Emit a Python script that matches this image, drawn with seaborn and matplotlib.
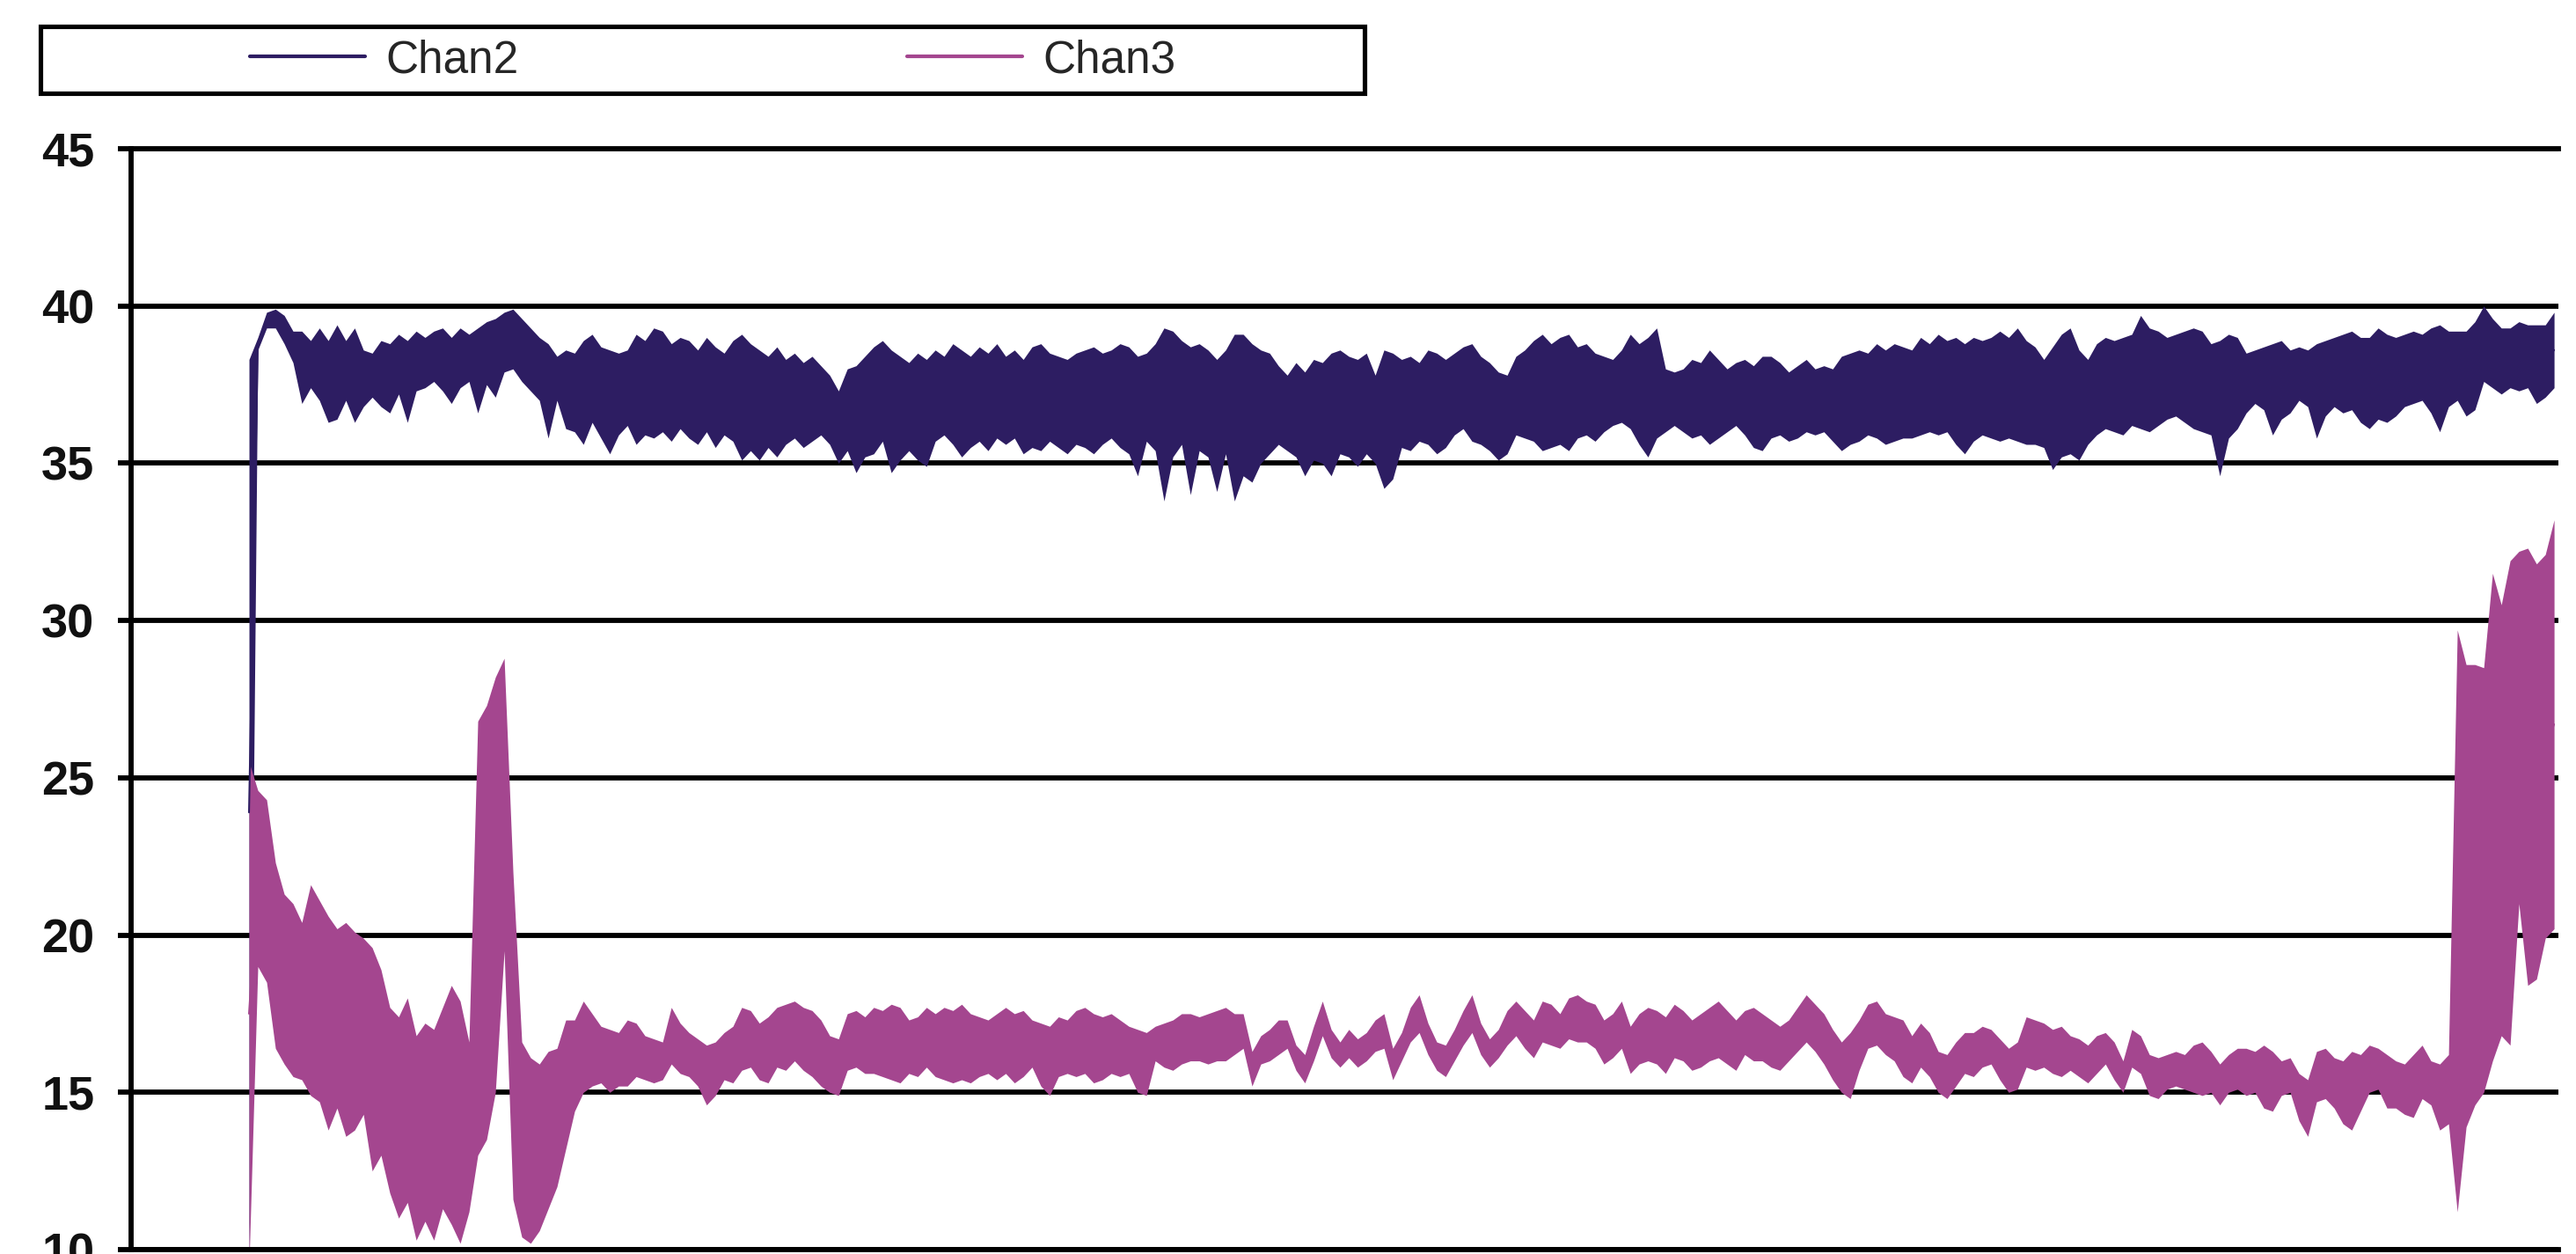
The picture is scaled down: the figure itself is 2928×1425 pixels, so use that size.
import numpy as np
import pandas as pd
import seaborn as sns
import matplotlib.pyplot as plt
from matplotlib.patches import Rectangle

# Valores: borde superior e inferior de cada traza por muestra
chan2_hi = [
    38.3, 39.0, 39.8, 39.9, 39.7, 39.2, 39.2, 38.9, 39.3, 38.9,
    39.4, 38.9, 39.3, 38.6, 38.5, 38.9, 38.8, 39.1, 38.9, 39.2,
    39.0, 39.2, 39.3, 39.0, 39.3, 39.1, 39.3, 39.5, 39.6, 39.8,
    39.9, 39.6, 39.3, 39.0, 38.8, 38.4, 38.6, 38.5, 38.9, 39.1,
    38.7, 38.6, 38.5, 38.6, 39.1, 38.9, 39.3, 39.2, 38.8, 39.0,
    38.9, 38.6, 39.0, 38.7, 38.5, 38.9, 39.1, 38.8, 38.6, 38.4,
    38.7, 38.3, 38.5, 38.2, 38.4, 38.1, 37.8, 37.3, 38.0, 38.1,
    38.4, 38.7, 38.9, 38.6, 38.4, 38.2, 38.5, 38.3, 38.6, 38.4,
    38.8, 38.6, 38.4, 38.7, 38.5, 38.8, 38.4, 38.6, 38.3, 38.7,
    38.8, 38.5, 38.4, 38.3, 38.5, 38.6, 38.7, 38.5, 38.6, 38.8,
    38.7, 38.4, 38.5, 38.8, 39.3, 39.2, 38.9, 38.7, 38.8, 38.6,
    38.3, 38.6, 39.1, 39.1, 38.8, 38.6, 38.5, 38.1, 37.8, 38.2,
    37.9, 38.3, 38.2, 38.5, 38.6, 38.4, 38.3, 38.5, 37.8, 38.6,
    38.5, 38.3, 38.4, 38.2, 38.6, 38.5, 38.3, 38.5, 38.7, 38.8,
    38.4, 38.2, 37.9, 37.8, 38.4, 38.6, 38.9, 39.1, 38.8, 39.0,
    39.1, 38.7, 38.8, 38.5, 38.4, 38.3, 38.6, 39.1, 38.8, 39.0,
    39.3, 38.0, 37.9, 38.0, 38.3, 38.2, 38.6, 38.3, 38.0, 38.2,
    38.3, 38.1, 38.4, 38.4, 38.2, 37.9, 38.1, 38.3, 38.0, 38.1,
    38.0, 38.4, 38.5, 38.6, 38.5, 38.8, 38.6, 38.8, 38.7, 38.6,
    39.0, 38.8, 39.1, 38.9, 39.0, 38.8, 39.0, 38.9, 39.0, 39.2,
    39.0, 39.3, 38.9, 38.7, 38.3, 38.7, 39.1, 39.3, 38.6, 38.3,
    38.8, 39.0, 38.9, 39.0, 39.1, 39.7, 39.3, 39.2, 39.0, 39.1,
    39.2, 39.3, 39.2, 38.8, 38.9, 39.1, 39.0, 38.5, 38.6, 38.7,
    38.8, 38.9, 38.6, 38.7, 38.6, 38.8, 38.9, 39.0, 39.1, 39.2,
    39.0, 39.0, 39.3, 39.1, 39.0, 39.1, 39.2, 39.1, 39.3, 39.4,
    39.2, 39.2, 39.2, 39.5, 40.0, 39.6, 39.3, 39.3, 39.5, 39.4,
    39.4, 39.4, 39.8,
]
chan2_lo = [
    9.5, 38.6, 39.3, 39.3, 38.8, 38.2, 36.9, 37.4, 37.0, 36.3,
    36.4, 37.0, 36.3, 36.8, 37.1, 36.8, 36.6, 37.2, 36.3, 37.3,
    37.4, 37.6, 37.3, 36.9, 37.4, 37.6, 36.6, 37.5, 37.1, 37.9,
    38.0, 37.6, 37.3, 37.0, 35.8, 37.0, 36.1, 36.0, 35.6, 36.3,
    35.8, 35.3, 35.9, 36.2, 35.6, 35.9, 35.8, 36.0, 35.7, 36.1,
    35.8, 35.6, 36.0, 35.5, 35.9, 35.7, 35.1, 35.4, 35.1, 35.5,
    35.2, 35.6, 35.8, 35.5, 35.7, 35.9, 35.6, 35.0, 35.4, 34.7,
    35.2, 35.3, 35.7, 34.7, 35.1, 35.4, 35.1, 34.9, 35.7, 35.9,
    35.6, 35.2, 35.5, 35.7, 35.4, 35.8, 35.6, 35.8, 35.3, 35.5,
    35.4, 35.7, 35.5, 35.3, 35.6, 35.5, 35.3, 35.6, 35.8, 35.5,
    35.3, 34.6, 35.7, 35.4, 33.8, 35.2, 35.6, 34.0, 35.4, 35.2,
    34.1, 35.3, 33.8, 34.6, 34.4, 35.0, 35.3, 35.6, 35.4, 35.2,
    34.6, 35.1, 35.0, 34.6, 35.3, 35.2, 34.9, 35.3, 35.0, 34.2,
    34.5, 35.5, 35.4, 35.7, 35.6, 35.3, 35.5, 35.9, 36.1, 35.7,
    35.6, 35.4, 35.1, 35.3, 35.9, 35.8, 35.7, 35.4, 35.5, 35.6,
    35.4, 35.8, 35.9, 35.7, 36.0, 36.2, 36.3, 36.1, 35.6, 35.2,
    35.8, 36.0, 36.2, 36.0, 35.8, 35.9, 35.6, 35.8, 36.0, 36.2,
    35.9, 35.5, 35.4, 35.8, 35.9, 35.7, 35.8, 36.0, 35.9, 36.0,
    35.7, 35.4, 35.6, 35.7, 35.9, 35.8, 35.6, 35.7, 35.8, 35.8,
    35.9, 36.0, 35.9, 36.0, 35.6, 35.3, 35.7, 35.9, 35.8, 35.7,
    35.8, 35.7, 35.6, 35.6, 35.5, 34.8, 35.2, 35.3, 35.1, 35.6,
    35.9, 36.1, 36.0, 35.9, 36.2, 36.1, 36.0, 36.2, 36.4, 36.5,
    36.3, 36.1, 36.0, 35.9, 34.6, 35.8, 36.1, 36.6, 36.9, 36.7,
    35.9, 36.4, 36.6, 37.0, 36.8, 35.8, 36.5, 36.8, 36.6, 36.7,
    36.3, 36.1, 36.4, 36.3, 36.5, 36.8, 36.9, 37.0, 36.6, 36.0,
    36.8, 37.0, 36.5, 36.7, 37.6, 37.4, 37.2, 37.4, 37.3, 37.4,
    36.9, 37.1, 37.4,
]
chan3_hi = [
    25.5, 24.6, 24.3, 22.3, 21.3, 21.0, 20.4, 21.6, 21.1, 20.6,
    20.2, 20.4, 20.1, 19.9, 19.6, 18.9, 17.7, 17.4, 18.0, 16.8,
    17.2, 17.0, 17.7, 18.4, 17.9, 16.6, 26.8, 27.3, 28.2, 28.8,
    22.0, 16.6, 16.1, 15.9, 16.3, 16.4, 17.3, 17.3, 17.9, 17.5,
    17.1, 17.0, 16.9, 17.3, 17.2, 16.8, 16.7, 16.6, 17.7, 17.2,
    16.9, 16.7, 16.5, 16.6, 16.9, 17.1, 17.7, 17.6, 17.2, 17.4,
    17.7, 17.8, 17.9, 17.7, 17.6, 17.3, 16.8, 16.7, 17.5, 17.6,
    17.4, 17.7, 17.6, 17.8, 17.7, 17.3, 17.4, 17.7, 17.5, 17.7,
    17.6, 17.8, 17.5, 17.4, 17.3, 17.5, 17.7, 17.5, 17.6, 17.3,
    17.2, 17.1, 17.4, 17.3, 17.6, 17.7, 17.5, 17.4, 17.5, 17.3,
    17.1, 17.0, 16.9, 17.1, 17.2, 17.3, 17.5, 17.5, 17.4, 17.5,
    17.6, 17.7, 17.5, 17.5, 16.3, 16.8, 17.0, 17.3, 17.3, 16.5,
    16.2, 17.1, 17.9, 17.0, 16.6, 17.0, 16.7, 16.9, 17.3, 17.5,
    16.4, 16.9, 17.7, 18.1, 17.2, 16.6, 16.5, 17.0, 17.6, 18.1,
    17.2, 16.7, 17.0, 17.6, 17.9, 17.6, 17.3, 17.9, 17.8, 17.5,
    18.0, 18.1, 17.9, 17.8, 17.3, 17.5, 17.9, 17.1, 17.5, 17.7,
    17.6, 17.4, 17.8, 17.6, 17.3, 17.5, 17.7, 17.9, 17.6, 17.3,
    17.6, 17.7, 17.5, 17.3, 17.1, 17.3, 17.7, 18.1, 17.8, 17.5,
    17.0, 16.6, 16.9, 17.3, 17.8, 17.9, 17.5, 17.4, 17.3, 16.8,
    17.2, 16.9, 16.3, 16.2, 16.6, 16.9, 16.9, 17.1, 17.0, 16.7,
    16.4, 16.6, 17.4, 17.3, 17.2, 17.0, 17.1, 16.8, 16.7, 16.5,
    16.8, 16.9, 16.6, 16.0, 17.0, 16.8, 16.2, 16.1, 16.2, 16.3,
    16.2, 16.5, 16.6, 16.3, 15.9, 16.2, 16.4, 16.4, 16.3, 16.5,
    16.3, 16.0, 16.1, 15.6, 15.4, 16.3, 16.4, 16.1, 16.0, 16.3,
    16.2, 16.5, 16.4, 16.2, 16.0, 15.9, 16.2, 16.5, 16.0, 15.9,
    16.2, 29.7, 28.6, 28.6, 28.5, 31.5, 30.5, 31.9, 32.2, 32.3,
    31.8, 32.1, 33.2,
]
chan3_lo = [
    9.5, 19.0, 18.5, 16.4, 15.9, 15.5, 15.4, 14.9, 14.7, 13.8,
    14.5, 13.6, 13.8, 14.3, 12.5, 13.0, 11.8, 11.0, 11.5, 10.3,
    10.9, 10.3, 11.3, 10.8, 10.2, 11.2, 13.0, 13.5, 15.0, 19.5,
    11.6, 10.4, 10.2, 10.6, 11.3, 12.0, 13.2, 14.4, 15.0, 15.2,
    15.3, 15.0, 15.2, 15.2, 15.5, 15.4, 15.3, 15.4, 15.9, 15.6,
    15.5, 15.2, 14.6, 14.9, 15.4, 15.3, 15.7, 15.8, 15.4, 15.3,
    15.8, 15.7, 16.0, 15.7, 15.5, 15.2, 15.0, 14.9, 15.7, 15.8,
    15.6, 15.6, 15.5, 15.4, 15.3, 15.6, 15.5, 15.8, 15.5, 15.4,
    15.3, 15.4, 15.3, 15.5, 15.6, 15.4, 15.6, 15.3, 15.5, 15.8,
    15.2, 14.9, 15.5, 15.6, 15.5, 15.6, 15.3, 15.4, 15.6, 15.5,
    15.6, 15.0, 14.9, 16.0, 15.8, 15.7, 15.9, 16.0, 16.0, 15.9,
    16.0, 16.0, 16.2, 16.4, 15.2, 15.9, 16.0, 16.2, 16.4, 15.7,
    15.3, 16.0, 16.8, 16.1, 15.8, 16.1, 15.8, 16.0, 16.3, 16.4,
    15.4, 16.0, 16.6, 16.9, 16.2, 15.7, 15.5, 16.0, 16.5, 16.9,
    16.2, 15.8, 16.1, 16.5, 16.8, 16.4, 16.1, 16.6, 16.5, 16.4,
    16.7, 16.6, 16.6, 16.4, 15.9, 16.1, 16.4, 15.6, 15.9, 16.0,
    15.9, 15.6, 16.1, 16.0, 15.7, 15.8, 16.0, 16.1, 15.9, 15.7,
    16.2, 16.0, 16.0, 15.8, 15.7, 16.0, 16.3, 16.6, 16.3, 15.9,
    15.4, 15.0, 14.8, 15.7, 16.4, 16.5, 16.2, 16.0, 15.5, 15.3,
    15.8, 15.5, 15.0, 14.8, 15.2, 15.6, 15.5, 15.8, 15.9, 15.4,
    15.0, 15.1, 15.8, 15.7, 15.8, 15.6, 15.5, 15.7, 15.5, 15.3,
    15.6, 15.9, 15.4, 15.0, 15.8, 15.6, 14.9, 14.8, 15.1, 15.2,
    15.1, 15.0, 14.9, 15.0, 14.6, 15.0, 15.1, 14.9, 15.0, 14.5,
    14.4, 14.9, 15.0, 14.1, 13.6, 14.7, 14.8, 14.5, 14.0, 13.8,
    14.4, 15.0, 15.1, 14.5, 14.5, 14.3, 14.2, 14.8, 14.6, 13.8,
    14.0, 11.2, 13.9, 14.6, 15.0, 16.0, 16.8, 16.5, 21.0, 18.4,
    18.6, 19.9, 20.2,
]

canales = ["Chan2", "Chan3"]
colores = ["#2d1d62", "#a4468f"]
y_ticks = [10, 15, 20, 25, 30, 35, 40, 45]

sns.set_style("white")
plt.rcParams["font.family"] = ["Liberation Sans", "DejaVu Sans"]

# Tabla larga: dos filas por muestra (borde alto y bajo), la banda min-max rellena la traza
muestras = np.arange(len(chan2_hi))
df = pd.concat([
    pd.DataFrame({"muestra": muestras, "valor": chan2_hi, "canal": "Chan2"}),
    pd.DataFrame({"muestra": muestras, "valor": chan2_lo, "canal": "Chan2"}),
    pd.DataFrame({"muestra": muestras, "valor": chan3_hi, "canal": "Chan3"}),
    pd.DataFrame({"muestra": muestras, "valor": chan3_lo, "canal": "Chan3"}),
], ignore_index=True)

fig = plt.figure(figsize=(29.28, 14.25), dpi=100)
ax = fig.add_axes([0.0509, 0.0035, 0.9423, 0.8779])

sns.lineplot(data=df, x="muestra", y="valor", hue="canal", hue_order=canales,
             palette=colores, estimator="mean", errorbar=("pi", 100),
             err_kws={"alpha": 1.0, "linewidth": 0}, linewidth=1.5, ax=ax)

ax.set_xlim(-13.4, 262.5)
ax.set_ylim(10, 45)
ax.set_yticks(y_ticks)
ax.set_xticks([])
ax.set_xlabel("")
ax.set_ylabel("")
ax.set_axisbelow(True)
ax.grid(axis="y", color="black", linewidth=4.2)
for lado in ["left", "top", "bottom"]:
    ax.spines[lado].set_visible(True)
    ax.spines[lado].set_color("black")
    ax.spines[lado].set_linewidth(4.2)
ax.spines["right"].set_visible(False)
ax.tick_params(axis="y", direction="out", length=11, width=4.2, color="black",
               pad=19, labelsize=39, labelcolor="#111111", left=True)
for t in ax.get_yticklabels():
    t.set_fontweight("bold")

# Leyenda arriba, con recuadro propio
handles, labels = ax.get_legend_handles_labels()
ax.get_legend().remove()
leg = fig.legend(handles, labels, loc="center left", bbox_to_anchor=(0.097, 0.9516),
                 ncol=2, frameon=False, fontsize=37, handlelength=2.55,
                 handletextpad=0.45, columnspacing=8.6, borderpad=0, borderaxespad=0)
for linea in leg.get_lines():
    linea.set_linewidth(3)
fig.add_artist(Rectangle((0.0157, 0.9256), 0.514, 0.0533, transform=fig.transFigure,
                         fill=False, edgecolor="black", linewidth=3.7))

fig.savefig("out.png", dpi=100, facecolor="white")
print("[INFO] Grafico guardado en out.png")
